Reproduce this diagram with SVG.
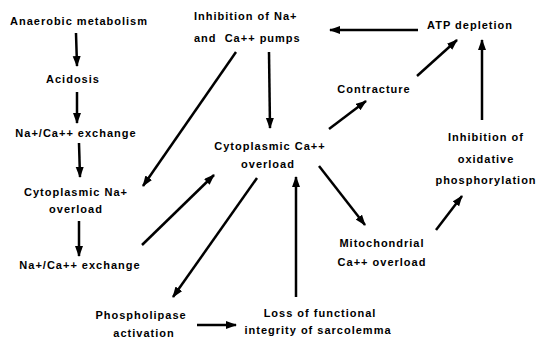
<svg xmlns="http://www.w3.org/2000/svg" width="538" height="338" viewBox="0 0 538 338">
<defs>
<marker id="ah" markerUnits="userSpaceOnUse" markerWidth="12" markerHeight="10" refX="10" refY="4" orient="auto">
<path d="M0,0 L11,4 L0,8 Z" fill="#000"/>
</marker>
<style>
text{font-family:"Liberation Sans",Arial,sans-serif;font-size:11px;font-weight:bold;letter-spacing:1px;fill:#000;text-anchor:middle}
.c line{stroke:#000;stroke-width:2.5;marker-end:url(#ah)}
</style>
</defs>
<rect width="538" height="338" fill="#fff"/>
<g id="anaerobic"><text x="79" y="25">Anaerobic metabolism</text></g>
<g id="acidosis"><text x="73" y="83">Acidosis</text></g>
<g id="exchange1"><text x="76" y="137">Na+/Ca++ exchange</text></g>
<g id="cytNa"><text x="76" y="196">Cytoplasmic Na+</text><text x="76" y="213">overload</text></g>
<g id="exchange2"><text x="80" y="269">Na+/Ca++ exchange</text></g>
<g id="pumps"><text x="194" y="20" style="text-anchor:start">Inhibition of Na+</text><text x="194" y="42" style="text-anchor:start">and&#160; Ca++ pumps</text></g>
<g id="atp"><text x="470" y="29">ATP depletion</text></g>
<g id="contracture"><text x="374" y="93">Contracture</text></g>
<g id="cytCa"><text x="270" y="150">Cytoplasmic Ca++</text><text x="268" y="168">overload</text></g>
<g id="oxid"><text x="486" y="141">Inhibition of</text><text x="486" y="163">oxidative</text><text x="486" y="184">phosphorylation</text></g>
<g id="mito"><text x="382" y="247">Mitochondrial</text><text x="382" y="266">Ca++ overload</text></g>
<g id="phospho"><text x="141" y="319">Phospholipase</text><text x="144" y="337">activation</text></g>
<g id="loss"><text x="320" y="317">Loss of functional</text><text x="318" y="334">integrity of sarcolemma</text></g>
<g id="connectors" class="c">
<line x1="76" y1="33" x2="77" y2="66"/>
<line x1="77" y1="92" x2="77" y2="123"/>
<line x1="79" y1="143" x2="80" y2="177"/>
<line x1="79" y1="221" x2="79" y2="256"/>
<line x1="236" y1="52" x2="143" y2="186"/>
<line x1="269" y1="52" x2="270" y2="128"/>
<line x1="418" y1="30" x2="330" y2="30"/>
<line x1="329" y1="129" x2="366" y2="101"/>
<line x1="417" y1="76" x2="457" y2="40"/>
<line x1="482" y1="120" x2="482" y2="40"/>
<line x1="319" y1="166" x2="365" y2="225"/>
<line x1="436" y1="230" x2="462" y2="196"/>
<line x1="296" y1="297" x2="296" y2="177"/>
<line x1="257" y1="178" x2="173" y2="297"/>
<line x1="142" y1="245" x2="214" y2="175"/>
<line x1="197" y1="325" x2="236" y2="325"/>
</g>
</svg>
